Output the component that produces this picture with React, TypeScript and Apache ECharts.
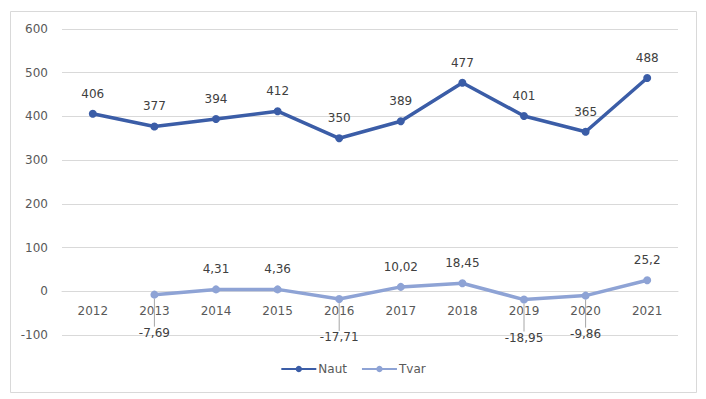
import React, { useEffect, useRef } from "react";
import * as echarts from "echarts";

const years = ["2012", "2013", "2014", "2015", "2016", "2017", "2018", "2019", "2020", "2021"];
const naut = [406, 377, 394, 412, 350, 389, 477, 401, 365, 488];
const tvar: (number | null)[] = [null, -7.69, 4.31, 4.36, -17.71, 10.02, 18.45, -18.95, -9.86, 25.2];
const yTicks = { min: -100, max: 600, interval: 100 };

const FONT = "DejaVu Sans";
const TXT = "#595959";
const fmt = (v: number) => String(v).replace(".", ",");

const GRID_TOP = 29;
const GRID_BOTTOM = 64;
const PLOT_H = 399 - GRID_TOP - GRID_BOTTOM;
const ZERO_OFFSET = (PLOT_H * (0 - yTicks.min)) / (yTicks.max - yTicks.min);

export default function App() {
  const ref = useRef<HTMLDivElement>(null);
  useEffect(() => {
    if (!ref.current) return;
    const chart = echarts.init(ref.current, undefined, { renderer: "svg" });
    chart.setOption({
      animation: false,
      textStyle: { fontFamily: FONT },
      graphic: [
        {
          type: "rect",
          shape: { x: 10.5, y: 11.5, width: 686, height: 381 },
          style: { fill: "none", stroke: "#D9D9D9", lineWidth: 1 },
          silent: true,
        },
      ],
      grid: { left: 62, right: 28, top: GRID_TOP, bottom: GRID_BOTTOM },
      legend: {
        top: 358,
        left: "center",
        itemWidth: 35,
        itemHeight: 8,
        itemGap: 14,
        textStyle: { color: TXT, fontSize: 12, fontFamily: FONT, padding: [0, 0, 0, -3] },
        data: ["Naut", "Tvar"],
      },
      xAxis: {
        type: "category",
        data: years,
        boundaryGap: true,
        position: "bottom",
        offset: -ZERO_OFFSET,
        axisLine: { show: true, onZero: false, lineStyle: { color: "#D9D9D9" } },
        axisTick: { show: false },
        axisLabel: { color: TXT, fontSize: 12, fontFamily: FONT, margin: 14 },
        splitLine: { show: false },
        z: 1,
      },
      yAxis: {
        type: "value",
        min: yTicks.min,
        max: yTicks.max,
        interval: yTicks.interval,
        axisLine: { show: false },
        axisTick: { show: false },
        axisLabel: { color: TXT, fontSize: 12, fontFamily: FONT, margin: 14 },
        splitLine: { lineStyle: { color: "#D9D9D9" } },
      },
      series: [
        {
          name: "Naut",
          type: "line",
          data: naut,
          symbol: "circle",
          symbolSize: 8,
          z: 3,
          lineStyle: { width: 3.5, color: "#3B5DA7" },
          itemStyle: { color: "#3B5DA7" },
          label: {
            show: true,
            position: "top",
            distance: 10,
            color: "#404040",
            fontSize: 12,
            fontFamily: FONT,
            formatter: (p: any) => fmt(p.value),
          },
        },
        {
          name: "Tvar",
          type: "line",
          data: tvar.map((v) =>
            v == null
              ? null
              : {
                  value: v,
                  label: { position: v < 0 ? "bottom" : "top" },
                  labelLine: { show: v < 0 },
                }
          ),
          symbol: "circle",
          symbolSize: 8,
          z: 3,
          lineStyle: { width: 3.5, color: "#8EA3D5" },
          itemStyle: { color: "#8EA3D5" },
          label: {
            show: true,
            distance: 10,
            color: "#404040",
            fontSize: 12,
            fontFamily: FONT,
            formatter: (p: any) => fmt(p.value),
          },
          labelLine: { show: false, lineStyle: { color: "#A6A6A6", width: 1 } },
          labelLayout: (params: any) => {
            const v = tvar[params.dataIndex];
            if (params.seriesIndex === 1 && v != null && v < 0) return { dy: 18 };
            return {};
          },
        },
      ],
    });
    return () => chart.dispose();
  }, []);
  return (
    <div
      ref={ref}
      style={{ position: "fixed", left: 0, top: 0, width: 706, height: 399, background: "#fff" }}
    />
  );
}
